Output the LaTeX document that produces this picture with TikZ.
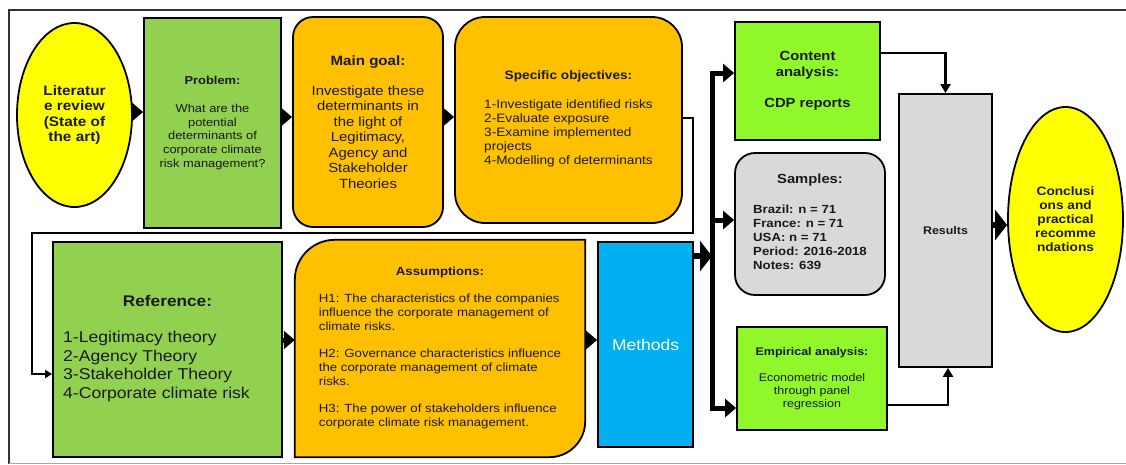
\documentclass[tikz,border=0pt]{standalone}
\usepackage{fontspec}
\setmainfont{Liberation Sans}[FakeStretch=1.12]
\usetikzlibrary{arrows.meta,shapes.geometric,backgrounds}
\definecolor{ylw}{HTML}{FFFF00}
\definecolor{grn}{HTML}{92D050}
\definecolor{org}{HTML}{FFC000}
\definecolor{lime}{HTML}{8FF72A}
\definecolor{gry}{HTML}{D9D9D9}
\definecolor{blu}{HTML}{00B0F0}
\definecolor{txt}{HTML}{1A1A1A}
\begin{document}
\begin{tikzpicture}[x=1pt,y=-1pt,
  box/.style={draw=black, line width=1.8pt, inner sep=0pt, align=center, text=txt},
  ell/.style={ellipse, draw=black, line width=1.8pt, inner sep=0pt, align=center, text=txt, fill=ylw},
  fat/.style={line width=5pt, -{Triangle[length=11pt,width=18pt]}},
  bigfat/.style={line width=6pt, -{Triangle[length=12pt,width=30pt]}},
  thinarrow/.style={line width=2pt, -{Triangle[length=7pt,width=8pt]}},
  medarrow/.style={line width=2.5pt, -{Triangle[length=9pt,width=10pt]}},
  barline/.style={line width=5pt}]
\useasboundingbox (0,0) rectangle (1126,464);
% outer frame
\draw[line width=2pt, black!80] (9,464) -- (9,10) -- (1126,10);
\draw[line width=1pt, black!35] (9,463) -- (1126,463);

% top row
\node[ell, minimum width=115pt, minimum height=184pt,
      font=\bfseries\fontsize{13.7}{15.5}\selectfont] (lit) at (74.5,115)
  {Literatur\\e review\\(State of\\the art)};
\node[box, fill=grn, minimum width=137pt, minimum height=210pt,
      font=\fontsize{11.5}{13.7}\selectfont] (prob) at (212.5,123)
  {\textbf{Problem:}\\[14pt]What are the\\potential\\determinants of\\corporate climate\\risk management?};
\node[box, fill=org, rounded corners=20pt, minimum width=150pt, minimum height=210pt,
      font=\fontsize{13.3}{15.5}\selectfont] (main) at (368,122)
  {{\bfseries\fontsize{13.5}{15.5}\selectfont Main goal:}\\[14.5pt]Investigate these\\determinants in\\the light of\\Legitimacy,\\Agency and\\Stakeholder\\Theories};
\node[box, fill=org, rounded corners=30pt, minimum width=227pt, minimum height=206pt,
      font=\fontsize{12.2}{14}\selectfont] (spec) at (568.5,120)
  {\textbf{Specific objectives:}\\[15pt]\begin{tabular}[t]{@{}l@{}}1-Investigate identified risks\\2-Evaluate exposure\\3-Examine implemented\\projects\\4-Modelling of determinants\end{tabular}};

% bottom row
\node[box, fill=grn, minimum width=229pt, minimum height=215pt,
      font=\fontsize{15.7}{18.5}\selectfont] (ref) at (167.5,349.5)
  {{\bfseries\fontsize{15.4}{18.5}\selectfont Reference:}\\[17.5pt]\begin{tabular}[t]{@{}l@{}}1-Legitimacy theory\\2-Agency Theory\\3-Stakeholder Theory\\4-Corporate climate risk\end{tabular}\hspace*{22pt}};
\node[inner sep=0pt, align=center, text=txt, minimum width=290pt, minimum height=217pt,
      font=\fontsize{11.8}{13.7}\selectfont] (assump) at (440,348.5)
  {\textbf{Assumptions:}\\[14pt]\begin{tabular}[t]{@{}l@{}}H1: The characteristics of the companies\\influence the corporate management of\\climate risks.\\ \\H2: Governance characteristics influence\\the corporate management of climate\\risks.\\ \\H3: The power of stakeholders influence\\corporate climate risk management.\end{tabular}};
\begin{scope}[on background layer]
\draw[fill=org, line width=1.8pt] (assump.south west) -- ([yshift=-40pt]assump.north west)
  arc[start angle=180,end angle=90,radius=40pt] -- (assump.north east)
  -- ([yshift=36pt]assump.south east) arc[start angle=0,end angle=-90,radius=36pt] -- cycle;
\end{scope}
\node[box, fill=blu, minimum width=95pt, minimum height=205pt, text=white,
      font=\fontsize{15.6}{18}\selectfont] (methods) at (645.5,344.5) {Methods};

% right part
\node[box, fill=lime, minimum width=145pt, minimum height=118pt,
      font=\bfseries\fontsize{13.2}{16}\selectfont] (content) at (807.5,81)
  {Content\\analysis:\\[15pt]CDP reports};
\node[box, fill=gry, rounded corners=20pt, minimum width=150pt, minimum height=142pt,
      font=\bfseries\fontsize{11.8}{14}\selectfont] (samples) at (810,224)
  {{\fontsize{13.2}{14}\selectfont Samples:}\\[16pt]\begin{tabular}[t]{@{}l@{}}Brazil: n = 71\\France: n = 71\\USA: n = 71\\Period: 2016-2018\\Notes: 639\end{tabular}};
\node[box, fill=lime, minimum width=150pt, minimum height=103pt,
      font=\fontsize{11.1}{13}\selectfont] (emp) at (812,378.5)
  {\textbf{Empirical analysis:}\\[13pt]Econometric model\\through panel\\regression};
\node[box, fill=gry, minimum width=93pt, minimum height=273pt,
      font=\bfseries\fontsize{11.1}{13}\selectfont] (results) at (945.5,230.5) {Results};
\node[ell, minimum width=115pt, minimum height=225pt,
      font=\bfseries\fontsize{12.2}{14}\selectfont] (concl) at (1065.5,219.5)
  {Conclusi\\ons and\\practical\\recomme\\ndations};

% connectors
\draw[fat] ([yshift=3pt]lit.east) -- ([yshift=3pt]lit.east -| prob.west);
\draw[fat] ([yshift=6pt]prob.east) -- ([yshift=6pt]prob.east -| main.west);
\draw[fat] ([yshift=5pt]main.east) -- ([yshift=5pt]main.east -| spec.west);
\coordinate (L1) at (693,233);
\coordinate (L2) at (32,233);
\draw[thinarrow] ([yshift=2pt]spec.east) -| (L1) -- (L2) |- ([yshift=-24.5pt]ref.west);
\draw[fat] ([yshift=9.5pt]ref.east) -- ([yshift=9.5pt]ref.east -| assump.west);
\draw[fat] ([yshift=8.5pt]assump.east) -- ([yshift=8.5pt]assump.east -| methods.west);
\coordinate (J1) at (712,73);
\coordinate (J2) at (712,220);
\coordinate (J3) at (712,408);
\draw[bigfat] ([yshift=-15pt]methods.north east) -- ([yshift=-15pt]methods.north east -| J1);
\draw[barline] ([yshift=2.5pt]J1) -- ([yshift=-2.5pt]J3);
\draw[fat] (J1) -- (J1 -| content.west);
\draw[fat] (J2) -- (J2 -| samples.west);
\draw[fat] (J3) -- (J3 -| emp.west);
\draw[medarrow] ([yshift=28pt]content.east) -| (results.north);
\draw[medarrow] ([yshift=-26.5pt]emp.east) -| ([xshift=2.5pt]results.south);
\draw[bigfat] ([yshift=5.5pt]results.east) -- ([yshift=5.5pt]results.east -| concl.west);
\end{tikzpicture}
\end{document}
